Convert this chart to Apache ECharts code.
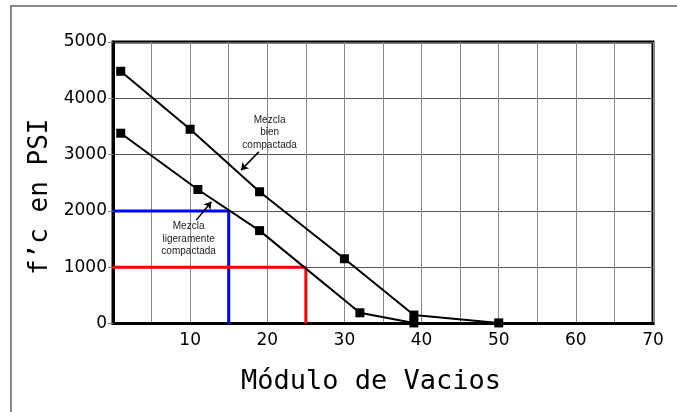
<!DOCTYPE html>
<html>
<head>
<meta charset="utf-8">
<script src="https://cdn.jsdelivr.net/npm/echarts@6/dist/echarts.min.js"></script>
<style>html,body{margin:0;padding:0;background:#fff;}#c{width:677px;height:412px;}</style>
</head>
<body>
<div id="c"></div>
<script>
// Data
const bienCompactada = [[1, 4480], [10, 3450], [19, 2340], [30, 1150], [39, 150], [50, 10]];
const ligeramenteCompactada = [[1, 3380], [11, 2380], [19, 1650], [32, 190], [39, 10]];
const guideBlue = [[0, 2000], [15, 2000], [15, 0]];
const guideRed = [[0, 1000], [25, 1000], [25, 0]];
const xTickLabels = [10, 20, 30, 40, 50, 60, 70];
const yTickLabels = [0, 1000, 2000, 3000, 4000, 5000];
const xTitle = 'Módulo de Vacios';
const yTitle = 'f’c en PSI';
const annBienText = 'Mezcla\nbien\ncompactada';
const annBienPos = [20.3, 3390];
const annBienArrow = [[18.9, 3048], [16.6, 2724]];
const annLigText = 'Mezcla\nligeramente\ncompactada';
const annLigPos = [9.8, 1500];
const annLigArrow = [[10.8, 1836], [12.75, 2161]];

const chart = echarts.init(document.getElementById('c'), null, {renderer: 'canvas'});
const tickFont = {fontFamily: 'DejaVu Sans', fontSize: 17, color: '#000'};

const option = {
  animation: false,
  backgroundColor: '#fff',
  graphic: [{
    type: 'rect', silent: true, z: -10,
    shape: {x: 11, y: 6, width: 720, height: 440},
    style: {fill: 'none', stroke: '#888', lineWidth: 2}
  }],
  grid: {left: 113, right: 24, top: 42, bottom: 88.5, show: true, borderColor: '#000', borderWidth: 3, backgroundColor: 'transparent'},
  xAxis: {
    type: 'value', min: 0, max: 70, interval: 5,
    name: xTitle, nameLocation: 'middle', nameGap: 45,
    nameTextStyle: {fontFamily: 'DejaVu Sans Mono', fontSize: 27, color: '#000', padding: [0, 24, 0, 0]},
    axisLine: {lineStyle: {color: '#000', width: 3}},
    axisTick: {show: false},
    splitLine: {show: true, lineStyle: {color: '#888', width: 1}},
    axisLabel: Object.assign({}, tickFont, {margin: 9,
      formatter: v => xTickLabels.indexOf(v) >= 0 ? String(v) : ''})
  },
  yAxis: {
    type: 'value', min: 0, max: 5000, interval: 1000,
    name: yTitle, nameLocation: 'middle', nameGap: 52, nameRotate: 90,
    nameTextStyle: {fontFamily: 'DejaVu Sans Mono', fontSize: 26, color: '#000', padding: [0, 28, 0, 0]},
    axisLine: {lineStyle: {color: '#000', width: 3}},
    axisTick: {show: true, length: 5, lineStyle: {color: '#888', width: 1}},
    splitLine: {show: true, lineStyle: {color: '#555', width: 1}},
    axisLabel: Object.assign({}, tickFont, {margin: 6,
      formatter: v => yTickLabels.indexOf(v) >= 0 ? String(v) : ''})
  },
  series: [
    {type: 'line', data: guideBlue, symbol: 'none', lineStyle: {color: '#0000ff', width: 3}, z: 3},
    {type: 'line', data: guideRed, symbol: 'none', lineStyle: {color: '#ff0000', width: 3}, z: 3},
    {type: 'line', name: 'Mezcla bien compactada', data: bienCompactada, symbol: 'rect', symbolSize: 9,
      itemStyle: {color: '#000'}, lineStyle: {color: '#000', width: 2}, z: 4,
      markLine: {silent: true, symbol: ['none', 'arrow'], symbolSize: 7, label: {show: false},
        lineStyle: {color: '#000', width: 1.5, type: 'solid'},
        data: [[{coord: annBienArrow[0]}, {coord: annBienArrow[1]}]]},
      markPoint: {silent: true, symbol: 'circle', symbolSize: 0,
        data: [{coord: annBienPos, label: {show: true, position: 'inside', formatter: annBienText,
          fontFamily: 'Liberation Sans', fontSize: 10, lineHeight: 12.5, color: '#222', align: 'center'}}]}
    },
    {type: 'line', name: 'Mezcla ligeramente compactada', data: ligeramenteCompactada, symbol: 'rect', symbolSize: 9,
      itemStyle: {color: '#000'}, lineStyle: {color: '#000', width: 2}, z: 4,
      markLine: {silent: true, symbol: ['none', 'arrow'], symbolSize: 7, label: {show: false},
        lineStyle: {color: '#000', width: 1.5, type: 'solid'},
        data: [[{coord: annLigArrow[0]}, {coord: annLigArrow[1]}]]},
      markPoint: {silent: true, symbol: 'circle', symbolSize: 0,
        data: [{coord: annLigPos, label: {show: true, position: 'inside', formatter: annLigText,
          fontFamily: 'Liberation Sans', fontSize: 10, lineHeight: 12.5, color: '#222', align: 'center'}}]}
    }
  ]
};
chart.setOption(option);
</script>
</body>
</html>
